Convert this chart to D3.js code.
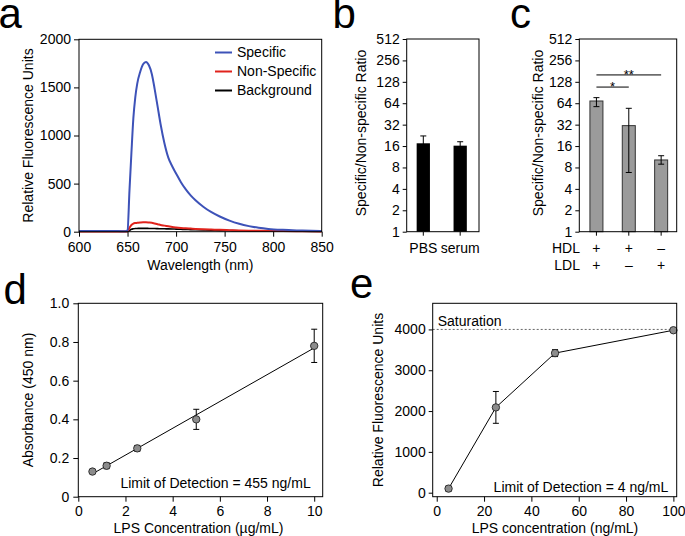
<!DOCTYPE html>
<html><head><meta charset="utf-8">
<script src="https://cdn.jsdelivr.net/npm/d3@7"></script>
<style>
body{margin:0;background:#fff;}
text{font-family:Arial,"Liberation Sans",Helvetica,sans-serif;fill:#000;}
</style>
</head><body>
<svg id="fig" width="685" height="536"></svg>
<script>
// ---------- DATA ----------
// panel a: emission spectra
const wavelengths    = [600,620,640,648,650,652,654,656,658,660,663,666,669,672,675,678,681,684,688,692,696,700,705,710,715,720,728,736,745,755,765,775,785,795,810,830,850];
const specificRFU    = [8,6,6,5,15,430,820,1180,1400,1540,1660,1740,1765,1730,1640,1480,1300,1120,920,770,680,605,515,440,378,327,260,205,158,115,82,58,41,29,19,12,6];
const nonSpecificRFU = [3,3,3,3,5,40,70,85,90,92,95,97,97,95,92,85,78,70,63,56,49,44,39,35,32,29,25,22,19,16,13,11,10,9,7,5,3];
const backgroundRFU  = [2,2,2,2,3,12,25,30,33,34,35,35,35,34,33,33,32,31,30,29,28,27,25,23,22,20,18,16,14,12,10,9,8,7,5,4,3];
const spectrumNames  = ["Specific","Non-Specific","Background"];
const spectrumColors = ["#3d52b8","#e0231c","#000000"];
const wavelengthTicks = [600,650,700,750,800,850];
const rfuTicksA = [0,500,1000,1500,2000];

// panel b: ratio in PBS vs serum
const mediumLabels = ["PBS","serum"];
const mediumRatio  = [17.5,16.2];
const mediumUpper  = [22.2,18.4];
const mediumLower  = [14.0,14.3];
const log2Ticks = [1,2,4,8,16,32,64,128,256,512];

// panel c: lipoprotein interference
const lipoConditions = ["HDL+LDL","HDL only","LDL only"];
const hdlSigns  = ["+","+","\u2013"];
const ldlSigns  = ["+","\u2013","+"];
const lipoRatio = [68.8,31,10.2];
const lipoUpper = [76.7,54.3,11.7];
const lipoLower = [57.3,6.8,8.9];
const sigFrom   = [0,0];
const sigTo     = [1,2];
const sigLabels = ["*","**"];
const sigLevel  = [108,160];

// panel d: ELISA absorbance
const elisaConc = [0.6,1.2,2.5,5,10];
const elisaAbs  = [0.13,0.16,0.25,0.40,0.78];
const elisaErr  = [0.0,0.015,0.015,0.052,0.086];
const absTicks  = [0,0.2,0.4,0.6,0.8,1.0];
const ugTicks   = [0,2,4,6,8,10];

// panel e: fluorescence assay
const lpsConc = [5,25,50,100];
const lpsRFU  = [100,2090,3420,3980];
const lpsErr  = [60,390,85,30];
const rfuTicksE = [0,1000,2000,3000,4000];
const ngTicks   = [0,20,40,60,80,100];
const saturationLevel = 4000;

// ---------- DRAW ----------
const svg = d3.select("#fig");
const FS = 14;
const fmtInt = d3.format("d");

function frame(g, x0, x1, y0, y1){
  g.append("rect").attr("x",x0).attr("y",y0).attr("width",x1-x0).attr("height",y1-y0)
   .attr("fill","none").attr("stroke","#000").attr("stroke-width",1);
}
function styleAxis(sel){
  sel.select(".domain").remove();
  sel.selectAll(".tick line").attr("stroke","#000");
  sel.selectAll(".tick text").attr("font-size",FS).attr("fill","#000")
     .attr("font-family",'Arial,"Liberation Sans",sans-serif');
}
function panelLabel(t,x,y){
  svg.append("text").attr("x",x).attr("y",y).attr("font-size",42).text(t);
}
function yTitle(t,x,cy){
  svg.append("text").attr("transform",`translate(${x},${cy}) rotate(-90)`)
    .attr("text-anchor","middle").attr("font-size",FS).text(t);
}
function xTitle(t,cx,y){
  svg.append("text").attr("x",cx).attr("y",y).attr("text-anchor","middle").attr("font-size",FS).text(t);
}

// ===== Panel a =====
{
  const L=79,R=321.7,T=39.3,B=231.7;
  const x = d3.scaleLinear().domain([600,850]).range([L,R]);
  const y = d3.scaleLinear().domain([0,2000]).range([B,T]);
  const g = svg.append("g");
  const series = [specificRFU,nonSpecificRFU,backgroundRFU];
  const line = d3.line().x((d,i)=>x(wavelengths[i])).y(d=>y(d)).curve(d3.curveMonotoneX);
  [2,1,0].forEach(k=>{
    g.append("path").attr("d",line(series[k])).attr("fill","none")
     .attr("stroke",spectrumColors[k]).attr("stroke-width",k===2?1.6:2);
  });
  frame(g,L,R,T,B);
  g.append("g").attr("transform",`translate(0,${B})`)
    .call(d3.axisBottom(x).tickValues(wavelengthTicks).tickFormat(fmtInt).tickSize(5).tickPadding(5)).call(styleAxis);
  g.append("g").attr("transform",`translate(${L},0)`)
    .call(d3.axisLeft(y).tickValues(rfuTicksA).tickFormat(fmtInt).tickSize(5).tickPadding(3)).call(styleAxis);
  // legend
  const ly = d3.scaleBand().domain(spectrumNames).range([43,100]);
  spectrumNames.forEach((n,k)=>{
    const cy = ly(n)+ly.bandwidth()/2;
    g.append("line").attr("x1",215).attr("x2",232).attr("y1",cy).attr("y2",cy)
     .attr("stroke",spectrumColors[k]).attr("stroke-width",2);
    g.append("text").attr("x",237).attr("y",cy).attr("dy","0.35em").attr("font-size",FS).text(n);
  });
  xTitle("Wavelength (nm)",200.3,270);
  yTitle("Relative Fluorescence Units",32.5,135.5);
  panelLabel("a",-1.5,28);
}

// ===== Panel b =====
{
  const L=406.7,R=479,T=39,B=231.7;
  const x = d3.scaleBand().domain(mediumLabels).range([L,R]).paddingInner(0.64).paddingOuter(0.3).align(0.45);
  const y = d3.scaleLog().base(2).domain([1,512]).range([B,T]);
  const g = svg.append("g");
  mediumLabels.forEach((m,i)=>{
    g.append("rect").attr("x",x(m)).attr("width",x.bandwidth())
     .attr("y",y(mediumRatio[i])).attr("height",B-y(mediumRatio[i])).attr("fill","#000");
    const cx = x(m)+x.bandwidth()/2;
    g.append("line").attr("x1",cx).attr("x2",cx).attr("y1",y(mediumUpper[i])).attr("y2",y(mediumLower[i])).attr("stroke","#000");
    g.append("line").attr("x1",cx-3).attr("x2",cx+3).attr("y1",y(mediumUpper[i])).attr("y2",y(mediumUpper[i])).attr("stroke","#000");
  });
  frame(g,L,R,T,B);
  g.append("g").attr("transform",`translate(0,${B})`)
    .call(d3.axisBottom(x).tickSize(4).tickPadding(7)).call(styleAxis);
  g.append("g").attr("transform",`translate(${L},0)`)
    .call(d3.axisLeft(y).tickValues(log2Ticks).tickFormat(fmtInt).tickSize(4).tickPadding(3)).call(styleAxis);
  yTitle("Specific/Non-specific Ratio",366,133);
  panelLabel("b",332.5,28);
}

// ===== Panel c =====
{
  const L=579.3,R=676.7,T=39,B=231.7;
  const x = d3.scaleBand().domain(lipoConditions).range([L,R]).paddingInner(0.598).paddingOuter(0.304).align(0.54);
  const y = d3.scaleLog().base(2).domain([1,512]).range([B,T]);
  const g = svg.append("g");
  const cx = c=>x(c)+x.bandwidth()/2;
  lipoConditions.forEach((c,i)=>{
    g.append("rect").attr("x",x(c)).attr("width",x.bandwidth())
     .attr("y",y(lipoRatio[i])).attr("height",B-y(lipoRatio[i]))
     .attr("fill","#9b9b9b").attr("stroke","#333").attr("stroke-width",1);
    g.append("line").attr("x1",cx(c)).attr("x2",cx(c)).attr("y1",y(lipoUpper[i])).attr("y2",y(lipoLower[i])).attr("stroke","#000");
    [lipoUpper[i],lipoLower[i]].forEach(v=>{
      g.append("line").attr("x1",cx(c)-3).attr("x2",cx(c)+3).attr("y1",y(v)).attr("y2",y(v)).attr("stroke","#000");
    });
  });
  sigLabels.forEach((s,k)=>{
    const x1 = cx(lipoConditions[sigFrom[k]]), x2 = cx(lipoConditions[sigTo[k]]);
    const yy = y(sigLevel[k]);
    g.append("line").attr("x1",x1).attr("x2",x2).attr("y1",yy).attr("y2",yy).attr("stroke","#000");
    g.append("text").attr("x",(x1+x2)/2).attr("y",yy+4).attr("text-anchor","middle").attr("font-size",13).text(s);
  });
  frame(g,L,R,T,B);
  g.append("g").attr("transform",`translate(0,${B})`)
    .call(d3.axisBottom(x).tickSize(4).tickFormat("")).call(styleAxis);
  g.append("g").attr("transform",`translate(${L},0)`)
    .call(d3.axisLeft(y).tickValues(log2Ticks).tickFormat(fmtInt).tickSize(4).tickPadding(3)).call(styleAxis);
  g.append("text").attr("x",580).attr("y",253).attr("text-anchor","end").attr("font-size",FS).text("HDL");
  g.append("text").attr("x",580).attr("y",270).attr("text-anchor","end").attr("font-size",FS).text("LDL");
  lipoConditions.forEach((c,i)=>{
    g.append("text").attr("x",cx(c)).attr("y",253).attr("text-anchor","middle").attr("font-size",FS).text(hdlSigns[i]);
    g.append("text").attr("x",cx(c)).attr("y",270).attr("text-anchor","middle").attr("font-size",FS).text(ldlSigns[i]);
  });
  yTitle("Specific/Non-specific Ratio",543,133);
  panelLabel("c",510,28);
}

// marker helpers
function errBars(g,xs,ys,es,x,y){
  xs.forEach((xv,i)=>{
    if(!es[i]) return;
    const px=x(xv), y1=y(ys[i]+es[i]), y2=y(ys[i]-es[i]);
    g.append("line").attr("x1",px).attr("x2",px).attr("y1",y1).attr("y2",y2).attr("stroke","#000");
    [y1,y2].forEach(yy=>g.append("line").attr("x1",px-3).attr("x2",px+3).attr("y1",yy).attr("y2",yy).attr("stroke","#000"));
  });
}
function dots(g,xs,ys,x,y){
  xs.forEach((xv,i)=>{
    g.append("circle").attr("cx",x(xv)).attr("cy",y(ys[i])).attr("r",3.7)
     .attr("fill","#8c8c8c").attr("stroke","#222").attr("stroke-width",0.9);
  });
}

// ===== Panel d =====
{
  const L=78.3,R=322.7,T=303.3,B=496.7;
  const x = d3.scaleLinear().domain([0,10.36]).range([L,R]);
  const y = d3.scaleLinear().domain([0,1]).range([B,T]);
  const g = svg.append("g");
  // least-squares fit
  const mx=d3.mean(elisaConc), my=d3.mean(elisaAbs);
  const slope=d3.sum(elisaConc,(v,i)=>(v-mx)*(elisaAbs[i]-my))/d3.sum(elisaConc,v=>(v-mx)*(v-mx));
  const icpt=my-slope*mx;
  const xe=d3.extent(elisaConc);
  g.append("line").attr("x1",x(xe[0])).attr("y1",y(icpt+slope*xe[0]))
   .attr("x2",x(xe[1])).attr("y2",y(icpt+slope*xe[1])).attr("stroke","#000").attr("stroke-width",1);
  errBars(g,elisaConc,elisaAbs,elisaErr,x,y);
  dots(g,elisaConc,elisaAbs,x,y);
  frame(g,L,R,T,B);
  g.append("g").attr("transform",`translate(0,${B})`)
    .call(d3.axisBottom(x).tickValues(ugTicks).tickFormat(fmtInt).tickSize(5).tickPadding(4)).call(styleAxis);
  g.append("g").attr("transform",`translate(${L},0)`)
    .call(d3.axisLeft(y).tickValues(absTicks).tickFormat(d=>d===0?"0":d3.format(".1f")(d)).tickSize(5).tickPadding(4)).call(styleAxis);
  g.append("text").attr("x",310.7).attr("y",488).attr("text-anchor","end").attr("font-size",FS).text("Limit of Detection = 455 ng/mL");
  xTitle("LPS Concentration (\u00b5g/mL)",198.5,533);
  yTitle("Absorbance (450 nm)",33,400);
  panelLabel("d",3.5,304);
}

// ===== Panel e =====
{
  const L=432.7,R=676.7,T=303.3,B=496.7;
  const x = d3.scaleLinear().domain([-1.7,101.4]).range([L,R]);
  const y = d3.scaleLinear().domain([-98,4640]).range([B,T]);
  const g = svg.append("g");
  g.append("line").attr("x1",L).attr("x2",R).attr("y1",y(saturationLevel)).attr("y2",y(saturationLevel))
   .attr("stroke","#666").attr("stroke-width",1).attr("stroke-dasharray","2,2");
  g.append("text").attr("x",437.7).attr("y",y(saturationLevel)-3).attr("font-size",FS).text("Saturation");
  const line = d3.line().x((d,i)=>x(lpsConc[i])).y(d=>y(d));
  g.append("path").attr("d",line(lpsRFU)).attr("fill","none").attr("stroke","#000").attr("stroke-width",1);
  errBars(g,lpsConc,lpsRFU,lpsErr,x,y);
  dots(g,lpsConc,lpsRFU,x,y);
  frame(g,L,R,T,B);
  g.append("g").attr("transform",`translate(0,${B})`)
    .call(d3.axisBottom(x).tickValues(ngTicks).tickFormat(fmtInt).tickSize(5).tickPadding(4)).call(styleAxis);
  g.append("g").attr("transform",`translate(${L},0)`)
    .call(d3.axisLeft(y).tickValues(rfuTicksE).tickFormat(fmtInt).tickSize(4).tickPadding(3)).call(styleAxis);
  g.append("text").attr("x",668.3).attr("y",491.5).attr("text-anchor","end").attr("font-size",FS).text("Limit of Detection = 4 ng/mL");
  xTitle("LPS concentration (ng/mL)",555,533);
  yTitle("Relative Fluorescence Units",383,400);
  panelLabel("e",350,297.5);
}
</script>
</body></html>
